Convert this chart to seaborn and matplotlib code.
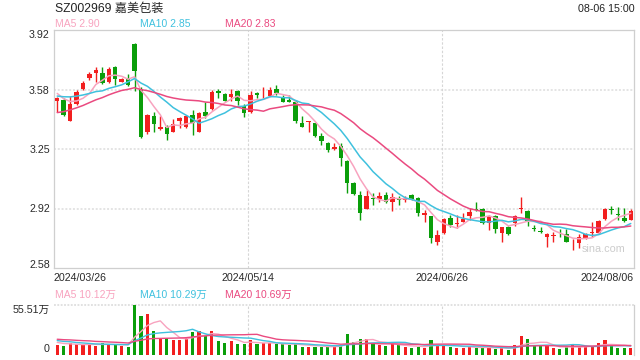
import numpy as np
import pandas as pd
import matplotlib
matplotlib.use("Agg")
import matplotlib.pyplot as plt
import matplotlib.transforms as mtrans
import seaborn as sns

# ---------------- data ----------------
title = "SZ002969 嘉美包装"
timestamp = "08-06 15:00"
price_ma_labels = ["MA5 2.90", "MA10 2.85", "MA20 2.83"]
vol_ma_labels = ["MA5 10.12万", "MA10 10.29万", "MA20 10.69万"]
price_ticks = [3.92, 3.585, 3.25, 2.915, 2.58]
price_tick_labels = ["3.92", "3.58", "3.25", "2.92", "2.58"]
vol_ticks = [55.51, 0]
vol_tick_labels = ["55.51万", "0"]
date_idx = [0, 30, 60, 89]
date_labels = ["2024/03/26", "2024/05/14", "2024/06/26", "2024/08/06"]
watermark = "sina.com"

open_ = [3.522, 3.526, 3.409, 3.503, 3.588, 3.652, 3.680, 3.680, 3.629, 3.710,
         3.629, 3.652, 3.841, 3.586, 3.348, 3.436, 3.361, 3.372, 3.348, 3.409,
         3.372, 3.441, 3.348, 3.458, 3.477, 3.576, 3.560, 3.541, 3.576, 3.492,
         3.460, 3.563, 3.563, 3.550, 3.586, 3.541, 3.526, 3.516, 3.394, 3.402,
         3.394, 3.323, 3.286, 3.248, 3.267, 3.184, 3.057, 2.991, 2.912, 2.974,
         2.967, 2.991, 2.953, 2.965, 2.965, 2.991, 2.972, 2.876, 2.873, 2.728,
         2.775, 2.860, 2.829, 2.841, 2.875, 2.909, 2.910, 2.835, 2.873, 2.775,
         2.813, 2.835, 2.914, 2.903, 2.805, 2.790, 2.753, 2.758, 2.773, 2.771,
         2.707, 2.723, 2.747, 2.779, 2.775, 2.856, 2.909, 2.881, 2.863, 2.850]
high = [3.545, 3.535, 3.548, 3.582, 3.635, 3.685, 3.710, 3.710, 3.710, 3.715,
        3.652, 3.672, 3.845, 3.597, 3.447, 3.460, 3.436, 3.385, 3.417, 3.428,
        3.441, 3.470, 3.460, 3.516, 3.582, 3.586, 3.565, 3.586, 3.580, 3.503,
        3.576, 3.573, 3.597, 3.597, 3.610, 3.554, 3.554, 3.526, 3.436, 3.410,
        3.398, 3.338, 3.290, 3.286, 3.282, 3.190, 3.066, 3.015, 3.019, 3.000,
        3.010, 3.010, 3.000, 2.985, 2.985, 2.995, 2.978, 2.907, 2.875, 2.794,
        2.860, 2.878, 2.878, 2.888, 2.920, 2.953, 2.916, 2.876, 2.876, 2.812,
        2.816, 2.878, 2.982, 2.906, 2.822, 2.809, 2.775, 2.785, 2.798, 2.798,
        2.741, 2.771, 2.775, 2.841, 2.850, 2.916, 2.929, 2.922, 2.916, 2.910]
low = [3.460, 3.436, 3.405, 3.500, 3.582, 3.638, 3.629, 3.614, 3.623, 3.610,
       3.625, 3.605, 3.578, 3.310, 3.334, 3.348, 3.357, 3.300, 3.345, 3.366,
       3.368, 3.329, 3.345, 3.423, 3.470, 3.535, 3.518, 3.522, 3.498, 3.428,
       3.455, 3.535, 3.535, 3.547, 3.554, 3.513, 3.513, 3.398, 3.372, 3.348,
       3.320, 3.272, 3.235, 3.245, 3.154, 3.004, 2.990, 2.850, 2.910, 2.935,
       2.953, 2.944, 2.903, 2.935, 2.953, 2.965, 2.873, 2.841, 2.719, 2.710,
       2.770, 2.809, 2.803, 2.838, 2.850, 2.903, 2.830, 2.794, 2.779, 2.728,
       2.766, 2.816, 2.892, 2.816, 2.790, 2.775, 2.700, 2.728, 2.756, 2.725,
       2.681, 2.691, 2.745, 2.756, 2.770, 2.853, 2.884, 2.850, 2.840, 2.848]
close = [3.537, 3.441, 3.503, 3.573, 3.624, 3.672, 3.695, 3.620, 3.700, 3.642,
         3.642, 3.610, 3.691, 3.316, 3.440, 3.389, 3.376, 3.334, 3.389, 3.423,
         3.436, 3.398, 3.451, 3.436, 3.573, 3.567, 3.522, 3.560, 3.520, 3.451,
         3.554, 3.554, 3.567, 3.582, 3.563, 3.516, 3.516, 3.410, 3.376, 3.406,
         3.323, 3.297, 3.244, 3.263, 3.197, 3.060, 2.995, 2.892, 2.985, 2.970,
         2.985, 2.953, 2.981, 2.961, 2.969, 2.967, 2.888, 2.892, 2.747, 2.766,
         2.856, 2.822, 2.833, 2.856, 2.897, 2.905, 2.835, 2.873, 2.798, 2.809,
         2.771, 2.873, 2.918, 2.846, 2.801, 2.781, 2.771, 2.762, 2.769, 2.728,
         2.711, 2.753, 2.771, 2.785, 2.844, 2.912, 2.905, 2.877, 2.845, 2.903]
volume = [11.1, 10.0, 13.0, 11.8, 11.8, 11.8, 10.4, 13.0, 11.8, 11.8,
          10.4, 9.3, 55.51, 43.3, 45.5, 26.6, 18.5, 18.5, 16.7, 16.7,
          18.5, 25.9, 26.6, 21.5, 26.6, 15.5, 13.7, 15.5, 12.6, 12.6,
          16.7, 11.8, 13.0, 13.0, 11.8, 11.8, 11.1, 13.0, 9.3, 9.3,
          9.3, 9.3, 9.3, 9.3, 11.1, 23.3, 14.1, 17.8, 17.8, 13.0,
          11.1, 10.4, 11.8, 11.1, 9.3, 8.1, 9.3, 8.1, 16.7, 10.4,
          11.1, 9.3, 8.1, 8.1, 9.3, 8.1, 8.1, 8.1, 6.7, 8.1,
          5.6, 11.1, 21.1, 17.8, 10.4, 10.4, 10.4, 7.4, 6.7, 9.3,
          11.1, 9.3, 9.3, 9.3, 13.0, 16.7, 10.4, 7.4, 7.4, 7.4]
# estimated sessions before the visible window (needed for the moving averages)
prior_close = [3.33, 3.31, 3.34, 3.36, 3.35, 3.38, 3.37, 3.39, 3.38, 3.41,
               3.48, 3.51, 3.53, 3.56, 3.585, 3.59, 3.58, 3.56, 3.548]
prior_volume = [20, 18, 21, 19, 17, 22, 18, 20, 17, 18,
                19, 17, 20, 17, 17, 16, 15, 14, 13.9]

# ---------------- style ----------------
UP, DOWN = "#f21f1f", "#0a9e0a"
MA_COLORS = ["#f8a3bf", "#3fc1de", "#ea4a80"]
BORDER = "#cfcfcf"

sns.set_theme(style="white")
plt.rcParams["font.family"] = ["Liberation Sans", "Noto Sans CJK SC", "DejaVu Sans"]

W, H = 640, 360
fig = plt.figure(figsize=(W / 100, H / 100), dpi=100)
fig.patch.set_facecolor("white")
L, R = 54, 634
ax = fig.add_axes([L / W, 1 - 268 / H, (R - L) / W, (268 - 30) / H])
axv = fig.add_axes([L / W, 1 - 355 / H, (R - L) / W, (355 - 305) / H])

n = len(close)
df = pd.DataFrame({"i": np.arange(n), "open": open_, "high": high, "low": low,
                   "close": close, "vol": volume})
df["dir"] = np.where(df["close"] >= df["open"], "up", "down")
pal = {"up": UP, "down": DOWN}
fc = pd.Series(prior_close + close)
fv = pd.Series(prior_volume + volume)
k = len(prior_close)
for w in (5, 10, 20):
    df[f"ma{w}"] = fc.rolling(w).mean().iloc[k:].to_numpy()
    df[f"vma{w}"] = fv.rolling(w).mean().iloc[k:].to_numpy()
colors = df["dir"].map(pal).tolist()

# ---------------- price panel ----------------
XL = (-0.5, n - 0.5)
for t in price_ticks[1:-1]:
    ax.axhline(t, color="#e2e2e2", lw=1.3, ls=(0, (1.1, 1.0)), zorder=0)
for d in date_idx[1:-1]:
    ax.axvline(d - 0.36, color="#d6d6d6", lw=0.8, ls=(0, (2.2, 1.6)), zorder=0)
    axv.axvline(d - 0.36, color="#d6d6d6", lw=0.8, ls=(0, (2.2, 1.6)), zorder=0)

ax.text(0.947, 0.08, watermark, transform=ax.transAxes, ha="center", va="center",
        fontsize=7.8, color="#cccccc", zorder=1)

ax.vlines(df["i"], df["low"], df["high"], colors=colors, lw=1.0, zorder=2)
body_lo = np.minimum(df["open"], df["close"])
body_h = np.maximum(np.abs(df["close"] - df["open"]), 0.005)
ax.bar(df["i"], body_h, bottom=body_lo, width=0.7, color=colors, linewidth=0, zorder=3)

for w, c in zip((5, 10, 20), MA_COLORS):
    sns.lineplot(data=df, x="i", y=f"ma{w}", color=c, lw=1.1, ax=ax, zorder=4)

ax.set_xlim(*XL)
ax.set_ylim(price_ticks[-1], price_ticks[0])
ax.set_yticks(price_ticks, price_tick_labels)
xt = [XL[0]] + [d - 0.36 for d in date_idx[1:-1]] + [XL[1]]
ax.set_xticks(xt, date_labels)
ax.set_xlabel("")
ax.set_ylabel("")
ax.tick_params(axis="both", length=0, labelsize=7.7, labelcolor="#2a2a2a")
ax.tick_params(axis="y", pad=3)
ax.tick_params(axis="x", pad=3.5)
ylab = ax.get_yticklabels()
ylab[0].set_va("top")
ylab[-1].set_va("baseline")
xlab = ax.get_xticklabels()
xlab[0].set_ha("left")
xlab[-1].set_ha("right")
for s in ax.spines.values():
    s.set_visible(True)
    s.set_color(BORDER)
    s.set_linewidth(0.9)

# ---------------- volume panel ----------------
sns.barplot(data=df, x="i", y="vol", hue="dir", palette=pal, native_scale=True,
            dodge=False, width=0.48, legend=False, errorbar=None, saturation=1,
            linewidth=0, ax=axv, zorder=2)
for w, c in zip((5, 10, 20), MA_COLORS):
    sns.lineplot(data=df, x="i", y=f"vma{w}", color=c, lw=1.0, ax=axv, zorder=4)
axv.set_xlim(*XL)
axv.set_ylim(vol_ticks[-1], vol_ticks[0])
axv.axhline(vol_ticks[0], color="#d8d8d8", lw=1.1, ls=(0, (1.2, 1.0)), zorder=1, clip_on=False)
axv.set_yticks(vol_ticks, vol_tick_labels)
axv.set_xticks([])
axv.set_xlabel("")
axv.set_ylabel("")
axv.tick_params(axis="y", length=0, pad=3, labelsize=7.7, labelcolor="#2a2a2a")
vlab = axv.get_yticklabels()
vlab[0].set_va("top")
vlab[-1].set_va("baseline")
vlab[-1].set_transform(vlab[-1].get_transform() +
                       mtrans.ScaledTranslation(0, 0.03, fig.dpi_scale_trans))
for name, s in axv.spines.items():
    s.set_visible(name == "right")
    s.set_color(BORDER)
    s.set_linewidth(0.9)

# ---------------- header texts ----------------
fig.text(55 / W, 1 - 8.5 / H, title, ha="left", va="center", fontsize=8.7, color="#222222")
fig.text(635 / W, 1 - 8.5 / H, timestamp, ha="right", va="center", fontsize=7.7, color="#222222")
for xpos, lab, c in zip((55, 140, 225), price_ma_labels, MA_COLORS):
    fig.text(xpos / W, 1 - 24 / H, lab, ha="left", va="center", fontsize=7.5, color=c)
for xpos, lab, c in zip((55, 140, 225), vol_ma_labels, MA_COLORS):
    fig.text(xpos / W, 1 - 295 / H, lab, ha="left", va="center", fontsize=7.5, color=c)

fig.savefig("out.png", dpi=100, facecolor="white")
